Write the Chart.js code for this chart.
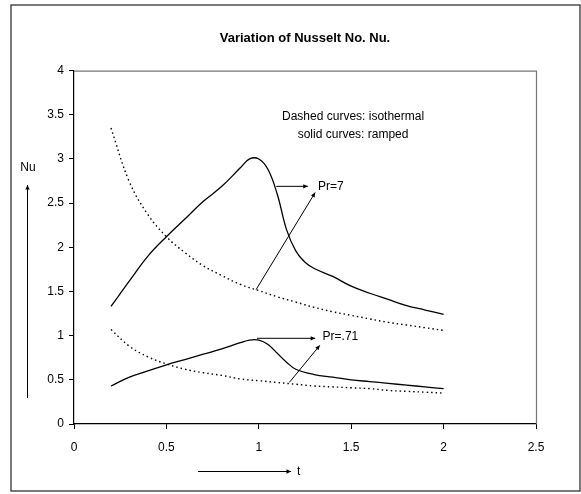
<!DOCTYPE html>
<html>
<head>
<meta charset="utf-8">
<style>
  html, body { margin: 0; padding: 0; background: #fff; }
  #wrap { width: 581px; height: 494px; }
</style>
<script src="https://cdn.jsdelivr.net/npm/chart.js@4.4.1/dist/chart.umd.min.js"></script>
</head>
<body>
<div id="wrap"><canvas id="nusselt" width="581" height="494"></canvas></div>
<script>
// t values for the isothermal (dashed) curves
const tIso = [0.2, 0.3, 0.4, 0.5, 0.6, 0.7, 0.8, 0.9, 1.0, 1.1, 1.2, 1.3, 1.4, 1.5, 1.6, 1.7, 1.8, 1.9, 2.0];
const isoPr7 = [3.35, 2.74, 2.37, 2.12, 1.94, 1.79, 1.68, 1.58, 1.51, 1.44, 1.38, 1.32, 1.27, 1.23, 1.19, 1.15, 1.12, 1.09, 1.06];
const isoPr071 = [1.07, 0.88, 0.76, 0.68, 0.62, 0.58, 0.55, 0.51, 0.49, 0.47, 0.45, 0.43, 0.42, 0.41, 0.40, 0.38, 0.37, 0.36, 0.35];

// t values for the ramped (solid) curves, denser round the peak
const tRamp7 = [0.2, 0.3, 0.4, 0.5, 0.6, 0.7, 0.8, 0.9, 0.95, 1.0, 1.05, 1.1, 1.15, 1.2, 1.25, 1.3, 1.4, 1.5, 1.6, 1.7, 1.8, 1.9, 2.0];
const rampPr7 = [1.33, 1.62, 1.90, 2.12, 2.32, 2.52, 2.69, 2.90, 3.00, 3.00, 2.88, 2.60, 2.20, 1.96, 1.83, 1.76, 1.67, 1.56, 1.48, 1.41, 1.34, 1.29, 1.24];
const tRamp071 = [0.2, 0.3, 0.4, 0.5, 0.6, 0.7, 0.8, 0.9, 0.95, 1.0, 1.05, 1.1, 1.15, 1.2, 1.3, 1.4, 1.5, 1.6, 1.7, 1.8, 1.9, 2.0];
const rampPr071 = [0.43, 0.53, 0.60, 0.67, 0.73, 0.79, 0.85, 0.92, 0.95, 0.95, 0.90, 0.80, 0.70, 0.62, 0.56, 0.53, 0.50, 0.48, 0.46, 0.44, 0.42, 0.40];

const xTicks = [0, 0.5, 1, 1.5, 2, 2.5];
const yTicks = [0, 0.5, 1, 1.5, 2, 2.5, 3, 3.5, 4];

// annotations, in data units: [t0, nu0, t1, nu1]
const arrows = [
  [1.094, 2.69, 1.265, 2.69],
  [0.985, 1.52, 1.305, 2.62],
  [0.99, 0.97, 1.305, 0.97],
  [1.165, 0.47, 1.33, 0.89]
];
const labels = [
  { text: "Pr=7", t: 1.32, nu: 2.69, align: "left" },
  { text: "Pr=.71", t: 1.345, nu: 0.985, align: "left" },
  { text: "Dashed curves: isothermal", t: 1.51, nu: 3.48, align: "center" },
  { text: "solid curves: ramped", t: 1.51, nu: 3.27, align: "center" }
];

const FONT = "'Liberation Sans', Arial, sans-serif";

function pts(xs, ys) {
  return xs.map((x, i) => ({ x: x, y: ys[i] }));
}

function arrowHead(ctx, x0, y0, x1, y1, size) {
  const a = Math.atan2(y1 - y0, x1 - x0);
  ctx.beginPath();
  ctx.moveTo(x1, y1);
  ctx.lineTo(x1 - size * Math.cos(a - 0.45), y1 - size * Math.sin(a - 0.45));
  ctx.lineTo(x1 - size * Math.cos(a + 0.45), y1 - size * Math.sin(a + 0.45));
  ctx.closePath();
  ctx.fill();
}

function arrow(ctx, x0, y0, x1, y1) {
  ctx.beginPath();
  ctx.moveTo(x0, y0);
  ctx.lineTo(x1, y1);
  ctx.stroke();
  arrowHead(ctx, x0, y0, x1, y1, 5);
}

const decorations = {
  id: "decorations",
  beforeDraw(chart) {
    const ctx = chart.ctx;
    ctx.save();
    ctx.fillStyle = "#fff";
    ctx.fillRect(0, 0, chart.width, chart.height);
    ctx.restore();
  },
  afterDraw(chart) {
    const ctx = chart.ctx;
    const area = chart.chartArea;
    const xs = chart.scales.x;
    const ys = chart.scales.y;
    ctx.save();

    // outer frame
    ctx.strokeStyle = "#333";
    ctx.lineWidth = 1.3;
    ctx.strokeRect(11, 5, chart.width - 12, chart.height - 8);

    // top and right edges of plot area
    ctx.strokeStyle = "#777";
    ctx.lineWidth = 1.2;
    ctx.beginPath();
    ctx.moveTo(area.left, area.top + 0.5);
    ctx.lineTo(area.right + 0.5, area.top + 0.5);
    ctx.lineTo(area.right + 0.5, area.bottom);
    ctx.stroke();

    ctx.strokeStyle = "#000";
    ctx.fillStyle = "#000";
    ctx.lineWidth = 1;
    for (const a of arrows) {
      arrow(ctx, xs.getPixelForValue(a[0]), ys.getPixelForValue(a[1]),
        xs.getPixelForValue(a[2]), ys.getPixelForValue(a[3]));
    }

    ctx.font = "12px " + FONT;
    ctx.textBaseline = "middle";
    for (const l of labels) {
      ctx.textAlign = l.align;
      ctx.fillText(l.text, xs.getPixelForValue(l.t), ys.getPixelForValue(l.nu));
    }

    // axis names with their arrows, outside the plot area
    ctx.textAlign = "center";
    ctx.fillText("Nu", 28, 168);
    arrow(ctx, 27.5, 398, 27.5, 185);
    arrow(ctx, 198, 471.5, 291, 471.5);
    ctx.textAlign = "left";
    ctx.fillText("t", 297, 472);

    ctx.restore();
  }
};

const solid = { borderColor: "#000", borderWidth: 1.3, pointRadius: 0, tension: 0.4, fill: false };
const dotted = { borderColor: "#000", borderWidth: 1.4, borderDash: [1.5, 3], pointRadius: 0, tension: 0.4, fill: false };

new Chart(document.getElementById("nusselt"), {
  type: "line",
  data: {
    datasets: [
      Object.assign({ label: "Ramped Pr=7", data: pts(tRamp7, rampPr7) }, solid),
      Object.assign({ label: "Isothermal Pr=7", data: pts(tIso, isoPr7) }, dotted),
      Object.assign({ label: "Ramped Pr=.71", data: pts(tRamp071, rampPr071) }, solid),
      Object.assign({ label: "Isothermal Pr=.71", data: pts(tIso, isoPr071) }, dotted)
    ]
  },
  options: {
    responsive: false,
    animation: false,
    layout: { padding: { top: 5, left: 10, right: 45, bottom: 20 } },
    plugins: {
      legend: { display: false },
      tooltip: { enabled: false },
      title: {
        display: true,
        fullSize: false,
        text: "Variation of Nusselt No. Nu.",
        color: "#000",
        font: { family: FONT, size: 13, weight: "bold" },
        padding: { top: 26, bottom: 24 }
      }
    },
    scales: {
      x: {
        type: "linear",
        min: 0,
        max: 2.5,
        afterBuildTicks: (s) => { s.ticks = xTicks.map(v => ({ value: v })); },
        afterFit: (s) => { s.height = 50; },
        grid: { drawOnChartArea: false, tickLength: 5, tickColor: "#000" },
        border: { color: "#000", width: 1.2 },
        ticks: { color: "#000", padding: 11, font: { family: FONT, size: 12 }, callback: (v) => String(v) }
      },
      y: {
        type: "linear",
        min: 0,
        max: 4,
        afterBuildTicks: (s) => { s.ticks = yTicks.map(v => ({ value: v })); },
        afterFit: (s) => { s.width = 64; },
        grid: { drawOnChartArea: false, tickLength: 5, tickColor: "#000" },
        border: { color: "#000", width: 1.2 },
        ticks: { color: "#000", padding: 5, font: { family: FONT, size: 12 }, callback: (v) => String(v) }
      }
    }
  },
  plugins: [decorations]
});
</script>
</body>
</html>
